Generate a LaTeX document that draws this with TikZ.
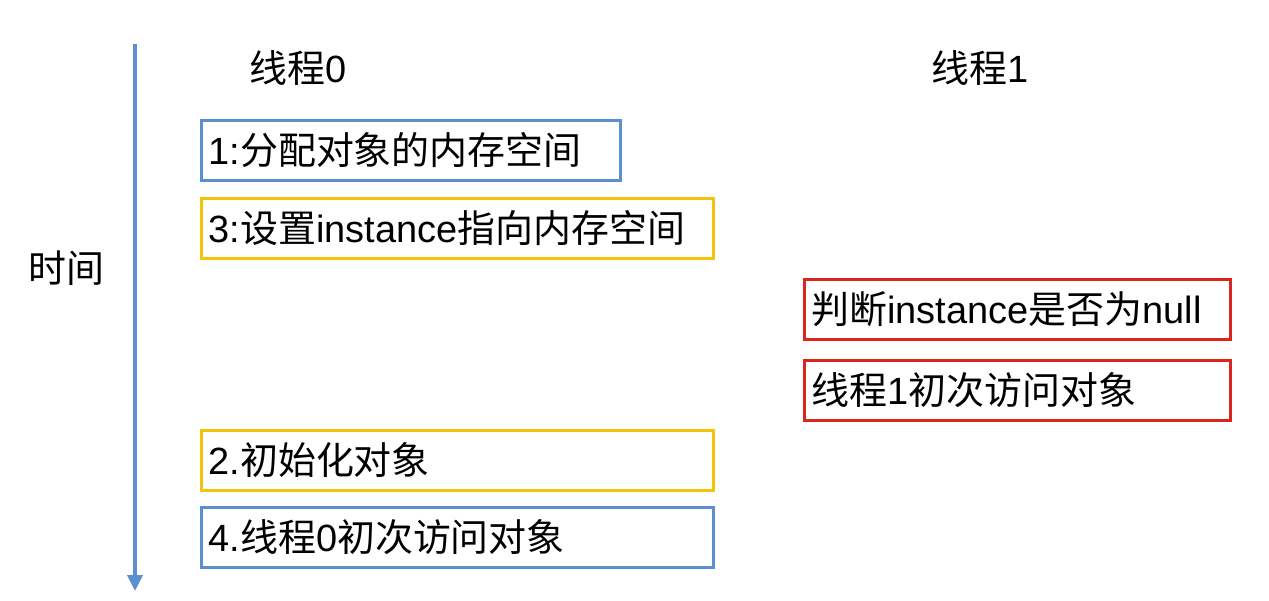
\documentclass[tikz,border=0pt]{standalone}
\usepackage{fontspec}
\setmainfont{Liberation Sans}
\newfontfamily\cjk{Noto Sans CJK SC}
\usepackage{xcolor}
\usepackage{tikz}
\usetikzlibrary{arrows.meta}
\definecolor{stepBlue}{RGB}{92,142,210}
\definecolor{stepYellow}{RGB}{243,196,10}
\definecolor{stepRed}{RGB}{218,38,28}
\newcommand{\zh}[1]{{\cjk #1}}

\begin{document}
\begin{tikzpicture}[x=0.02cm, y=-0.02cm, font=\fontsize{21.6}{25}\selectfont,
    stepbox/.style={draw=#1, line width=1.7pt, anchor=north west, inner xsep=0.14cm,
                    minimum height=1.2cm, align=left}]
  \useasboundingbox (0,0) rectangle (1269,600);
  % --- time axis ---------------------------------------------------------
  \coordinate (ttop) at (135,44);
  \coordinate (tbot) at (135,591);
  \draw[stepBlue, line width=2.2pt, -{Triangle[width=0.3cm,length=0.32cm]}] (ttop) -- (tbot);
  \node (tlab) at (66,268) {\zh{时间}};
  % --- thread headers ----------------------------------------------------
  \node (th0) at (298,68) {\zh{线程}0};
  \node (th1) at (980,68) {\zh{线程}1};
  % --- thread 0 steps ----------------------------------------------------
  \node[stepbox=stepBlue,   text width=8.1cm]   (s1) at (200,119) {1:\zh{分配对象的内存空间}};
  \node[stepbox=stepYellow, text width=9.96cm]  (s3) at (200,197) {3:\zh{设置}instance\zh{指向内存空间}};
  \node[stepbox=stepYellow, text width=9.96cm]  (s2) at (200,429) {2.\zh{初始化对象}};
  \node[stepbox=stepBlue,   text width=9.96cm]  (s4) at (200,506) {4.\zh{线程}0\zh{初次访问对象}};
  % --- thread 1 steps ----------------------------------------------------
  \node[stepbox=stepRed, text width=8.24cm] (r1) at (803,278) {\zh{判断}instance\zh{是否为}null};
  \node[stepbox=stepRed, text width=8.24cm] (r2) at (803,359) {\zh{线程}1\zh{初次访问对象}};
\end{tikzpicture}
\end{document}
